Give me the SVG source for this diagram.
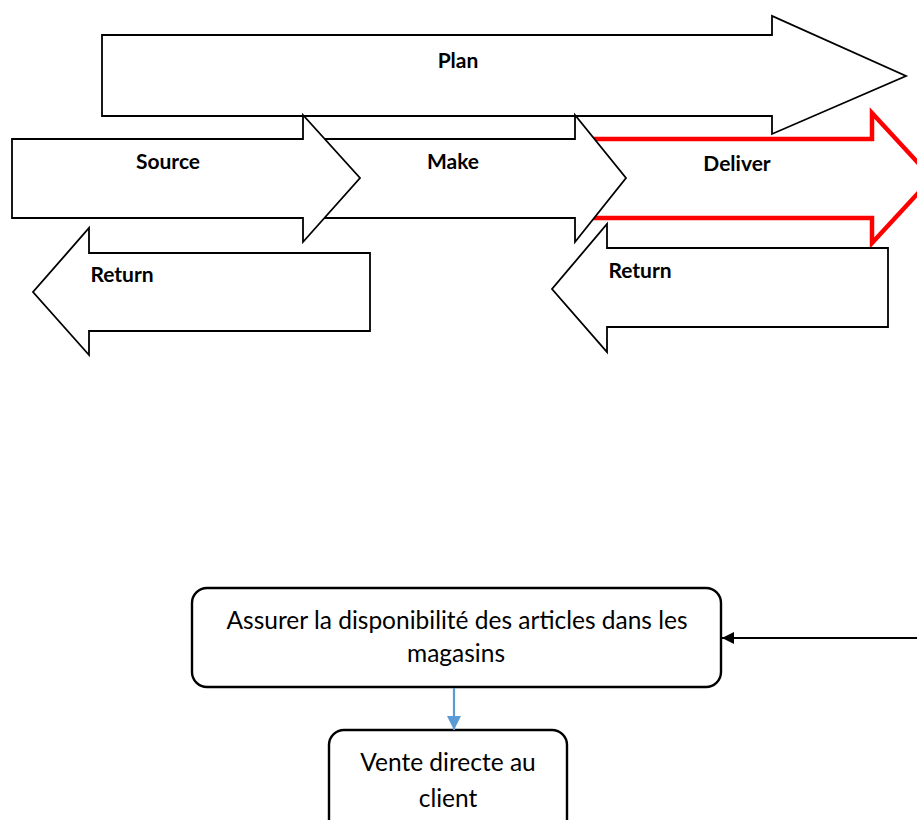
<svg xmlns="http://www.w3.org/2000/svg" width="917" height="820" viewBox="0 0 917 820">
  <defs>
    <style>
      .bg { fill: #ffffff; }
      .arrow { fill: #ffffff; stroke: #000000; stroke-width: 1.8; stroke-linejoin: miter; }
      .arrow-hl { fill: #ffffff; stroke: #ff0000; stroke-width: 4.5; stroke-linejoin: miter; }
      .lbl { font-family: Lato, "Open Sans", "Liberation Sans", sans-serif; font-weight: bold; font-size: 21px; fill: #000000; text-anchor: middle; }
      .box { fill: #ffffff; stroke: #000000; stroke-width: 2.4; }
      .txt { font-family: Lato, "Open Sans", "Liberation Sans", sans-serif; font-size: 24.5px; fill: #000000; text-anchor: middle; }
      .link-black { stroke: #000000; stroke-width: 2.2; fill: none; }
      .link-blue { stroke: #5b9bd5; stroke-width: 2.2; fill: none; }
    </style>
    <marker id="head-black" viewBox="0 0 10 10" refX="10" refY="5" markerUnits="userSpaceOnUse" markerWidth="16" markerHeight="12" orient="auto">
      <path d="M0,0 L10,5 L0,10 Z" fill="#000000"/>
    </marker>
    <marker id="head-blue" viewBox="0 0 10 10" refX="10" refY="5" markerUnits="userSpaceOnUse" markerWidth="17" markerHeight="14" orient="auto">
      <path d="M0,0 L10,5 L0,10 Z" fill="#5b9bd5"/>
    </marker>
  </defs>

  <rect class="bg" x="0" y="0" width="917" height="820"/>

  <!-- SCOR process arrows -->
  <g id="plan">
    <path class="arrow" d="M102,35 H772 V16 L906,76 L772,134 V116 H102 Z"/>
    <text class="lbl" x="458" y="68">Plan</text>
  </g>
  <g id="deliver">
    <path class="arrow-hl" d="M580,139 H872 V113 L932,178 L872,243 V218 H580 Z"/>
    <text class="lbl" x="737" y="171">Deliver</text>
  </g>
  <g id="make">
    <path class="arrow" d="M310,139 H575 V115 L626,178 L575,242 V218 H310 Z"/>
    <text class="lbl" x="453" y="169">Make</text>
  </g>
  <g id="source">
    <path class="arrow" d="M12,139 H303 V115 L360,178 L303,242 V218 H12 Z"/>
    <text class="lbl" x="168" y="169">Source</text>
  </g>
  <g id="return-source">
    <path class="arrow" d="M370,253 H89 V228 L33,292 L89,355 V331 H370 Z"/>
    <text class="lbl" x="122" y="282">Return</text>
  </g>
  <g id="return-deliver">
    <path class="arrow" d="M888,248 H607 V224 L552,289 L607,352 V327 H888 Z"/>
    <text class="lbl" x="640" y="278">Return</text>
  </g>

  <!-- Flow boxes -->
  <g id="disponibilite">
    <rect class="box" x="192" y="588" width="529" height="99" rx="15" ry="15"/>
    <text class="txt" x="457" y="629">Assurer la disponibilité des articles dans les</text>
    <text class="txt" x="456" y="662">magasins</text>
  </g>
  <g id="vente">
    <rect class="box" x="329" y="730" width="238" height="110" rx="15" ry="15"/>
    <text class="txt" x="448" y="771">Vente directe au</text>
    <text class="txt" x="448" y="807">client</text>
  </g>

  <!-- Connectors -->
  <g id="connectors">
    <line class="link-black" x1="917" y1="638" x2="722" y2="638" marker-end="url(#head-black)"/>
    <line class="link-blue" x1="454" y1="688" x2="454" y2="730" marker-end="url(#head-blue)"/>
  </g>
</svg>
